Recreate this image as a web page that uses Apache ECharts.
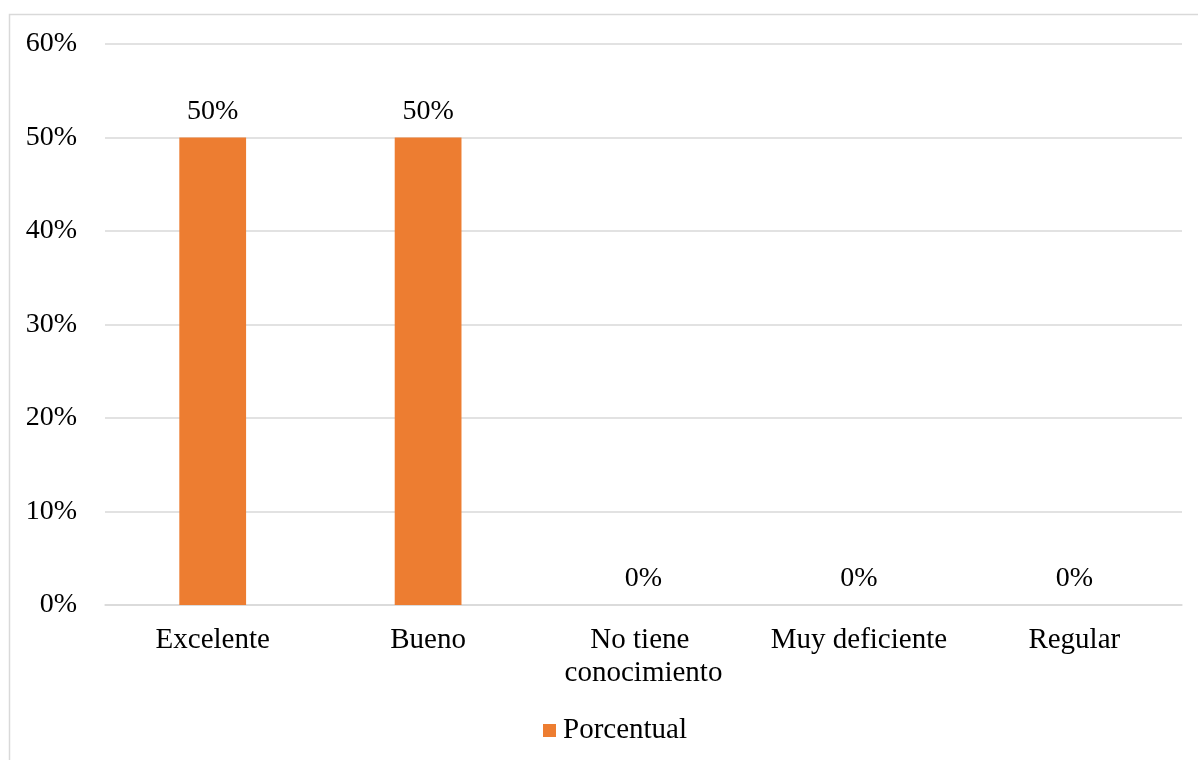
<!DOCTYPE html>
<html>
<head>
<meta charset="utf-8">
<style>
  html, body { margin: 0; padding: 0; background: #ffffff; }
  #chart { width: 1198px; height: 760px; }
</style>
<script src="https://cdn.jsdelivr.net/npm/echarts@6/dist/echarts.min.js"></script>
</head>
<body>
<div id="chart"></div>
<script>
// Categories and percentage values (in %)
var categories = ['Excelente', 'Bueno', 'No tiene conocimiento', 'Muy deficiente', 'Regular'];
var porcentual = [50, 50, 0, 0, 0];
var seriesName = 'Porcentual';
var yTicks = [0, 10, 20, 30, 40, 50, 60];

var FONT = '"Liberation Serif", "Times New Roman", serif';
var ORANGE = '#ED7D31';

var chart = echarts.init(document.getElementById('chart'), null, { renderer: 'canvas' });

chart.setOption({
  animation: false,
  backgroundColor: '#ffffff',
  textStyle: { fontFamily: FONT, color: '#000000' },
  graphic: [{
    type: 'rect',
    silent: true,
    shape: { x: 9.5, y: 14.5, width: 1220, height: 800 },
    style: { fill: 'none', stroke: '#d9d9d9', lineWidth: 1.5 }
  }],
  grid: { left: 105, right: 16, top: 44, bottom: 155, containLabel: false },
  legend: {
    data: [seriesName],
    bottom: 10,
    left: 538,
    icon: 'rect',
    itemWidth: 13,
    itemHeight: 13,
    itemGap: 8,
    textStyle: { fontFamily: FONT, fontSize: 29, color: '#000000', padding: [0, 0, 0, 2] }
  },
  xAxis: {
    type: 'category',
    data: categories,
    axisLine: { show: true, lineStyle: { color: '#d9d9d9', width: 1.5 } },
    axisTick: { show: false },
    axisLabel: {
      interval: 0,
      margin: 19,
      width: 200,
      overflow: 'break',
      lineHeight: 33,
      fontFamily: FONT,
      fontSize: 29,
      color: '#000000'
    }
  },
  yAxis: {
    type: 'value',
    min: yTicks[0],
    max: yTicks[yTicks.length - 1],
    interval: 10,
    axisLine: { show: false },
    axisTick: { show: false },
    splitLine: { lineStyle: { color: '#d9d9d9', width: 1.5 } },
    axisLabel: {
      margin: 28,
      fontFamily: FONT,
      fontSize: 28,
      color: '#000000',
      formatter: function (v) { return v + '%'; }
    }
  },
  series: [{
    name: seriesName,
    type: 'bar',
    data: porcentual,
    barWidth: '31%',
    itemStyle: { color: ORANGE },
    label: {
      show: true,
      position: 'top',
      distance: 12,
      fontFamily: FONT,
      fontSize: 28,
      color: '#000000',
      formatter: function (p) { return p.value + '%'; }
    }
  }]
});
</script>
</body>
</html>
